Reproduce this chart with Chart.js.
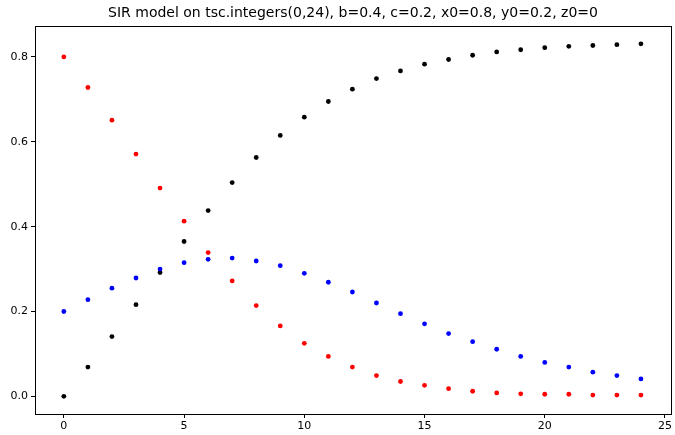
<!DOCTYPE html>
<html>
<head>
<meta charset="utf-8">
<script src="https://cdn.jsdelivr.net/npm/chart.js@4"></script>
<style>
  html, body { margin: 0; padding: 0; background: #fff; }
  canvas { display: block; }
</style>
</head>
<body>
<canvas id="sir" width="675" height="435"></canvas>
<script>
// SIR model values, t = 0..24
const steps = [0,1,2,3,4,5,6,7,8,9,10,11,12,13,14,15,16,17,18,19,20,21,22,23,24];
const susceptible = [0.800,0.728,0.651,0.571,0.491,0.413,0.339,0.272,0.214,0.166,0.125,0.094,0.069,
  0.049,0.035,0.026,0.018,0.012,0.008,0.006,0.005,0.005,0.003,0.003,0.003];
const infected = [0.200,0.228,0.255,0.279,0.300,0.315,0.323,0.326,0.319,0.308,0.290,0.269,0.246,
  0.220,0.195,0.171,0.148,0.129,0.111,0.094,0.080,0.069,0.057,0.049,0.041];
const recovered = [0.000,0.069,0.141,0.216,0.292,0.365,0.438,0.504,0.563,0.615,0.658,0.695,0.724,
  0.749,0.767,0.783,0.794,0.804,0.812,0.817,0.822,0.825,0.827,0.829,0.831];
const xTicks = [0, 5, 10, 15, 20, 25];
const yTicks = [0.0, 0.2, 0.4, 0.6, 0.8];
const title = 'SIR model on tsc.integers(0,24), b=0.4, c=0.2, x0=0.8, y0=0.2, z0=0';

const pts = (ys) => steps.map((t, i) => ({ x: t, y: ys[i] }));
const font = { family: 'DejaVu Sans', size: 11 };

// matplotlib-style box around the axes + title
const frame = {
  id: 'frame',
  afterDraw(chart) {
    const { ctx, chartArea: a } = chart;
    ctx.save();
    ctx.strokeStyle = '#000';
    ctx.lineWidth = 1;
    ctx.strokeRect(a.left + 0.5, a.top + 0.5, a.right - a.left, a.bottom - a.top);
    ctx.fillStyle = '#000';
    ctx.font = '14px "DejaVu Sans"';
    ctx.textAlign = 'center';
    ctx.textBaseline = 'middle';
    ctx.fillText(title, (a.left + a.right) / 2, 13);
    ctx.restore();
  },
};

const ds = (data, color, order) => ({
  data: pts(data),
  backgroundColor: color,
  borderColor: color,
  pointRadius: 2.4,
  pointBorderWidth: 0,
  order,
});

new Chart(document.getElementById('sir'), {
  type: 'scatter',
  data: {
    datasets: [
      ds(susceptible, '#ff0000', 3),
      ds(infected, '#0000ff', 1),
      ds(recovered, '#000000', 2),
    ],
  },
  options: {
    responsive: false,
    animation: false,
    layout: { padding: { top: 26, right: 3, left: 0, bottom: 0 } },
    plugins: { legend: { display: false }, tooltip: { enabled: false } },
    scales: {
      x: {
        min: -1.2, max: 25.25,
        afterFit: (s) => { s.height = 21; },
        afterBuildTicks: (s) => { s.ticks = xTicks.map((v) => ({ value: v })); },
        ticks: { color: '#000', font, padding: 2, maxRotation: 0, callback: (v) => String(v) },
        grid: { drawOnChartArea: false, drawTicks: true, tickLength: 4, color: '#000' },
        border: { color: '#000' },
      },
      y: {
        min: -0.0416, max: 0.873,
        afterFit: (s) => { s.width = 35; },
        afterBuildTicks: (s) => { s.ticks = yTicks.map((v) => ({ value: v })); },
        ticks: { color: '#000', font, padding: 3, callback: (v) => v.toFixed(1) },
        grid: { drawOnChartArea: false, drawTicks: true, tickLength: 4, color: '#000' },
        border: { color: '#000' },
      },
    },
  },
  plugins: [frame],
});
</script>
</body>
</html>
